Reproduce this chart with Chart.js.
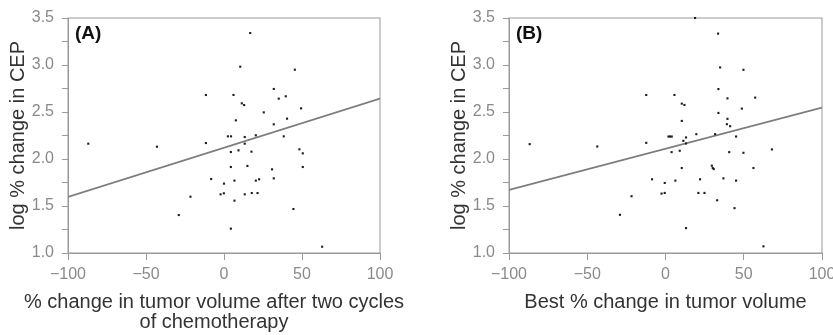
<!DOCTYPE html>
<html>
<head>
<meta charset="utf-8">
<script src="https://cdn.jsdelivr.net/npm/chart.js@4"></script>
<style>
  body { margin: 0; background: #fff; }
  #wrap { position: relative; width: 833px; height: 335px; overflow: hidden; }
  canvas { position: absolute; top: 0; }
</style>
</head>
<body>
<div id="wrap">
  <canvas id="chartA" width="416" height="335" style="left:0;width:416px;height:335px"></canvas>
  <canvas id="chartB" width="392" height="335" style="left:441px;width:392px;height:335px"></canvas>
</div>
<script>
// values
const xTicks = [-100, -50, 0, 50, 100];
const yTicks = [1.0, 1.5, 2.0, 2.5, 3.0, 3.5];

// (A) change after two cycles
const volA = [-87, -43, -29, -21.5, -11.6, -11.6, -8.2, -2.2, -0.1, 0,
  2.5, 4.5, 4.4, 4.4, 4.4, 6.1, 6.7, 6.7, 7.6, 9.3,
  10.4, 11.4, 12.9, 13.3, 13.3, 13.3, 15, 16.8, 17.6, 17.8,
  20.4, 20.4, 21.5, 22.5, 25.5, 30.8, 31.9, 31.9, 31.9, 35.1,
  38.3, 39.6, 40.4, 44.5, 45.4, 48.3, 49.4, 50.5, 50.5, 62.9];
const cepA = [2.163, 2.131, 1.404, 1.599, 2.681, 2.170, 1.787, 1.624, 1.635, 1.738,
  2.241, 2.241, 2.074, 1.915, 1.259, 2.681, 1.770, 1.557, 2.411, 2.092,
  2.982, 2.592, 2.574, 2.234, 2.163, 1.624, 1.926, 3.340, 2.078, 1.638,
  2.252, 1.770, 1.638, 1.784, 2.496, 1.890, 2.745, 2.369, 1.794, 2.642,
  2.241, 2.667, 2.429, 1.468, 2.950, 2.103, 2.539, 2.060, 1.915, 1.067];
const fitA = [1.596, 2.642]; // at x = -100 and x = 100

// (B) best change
const volB = [-86.8, -43.6, -29.1, -21.7, -12.3, -12.3, -8.6, -2.5, -0.5, -0.5,
  1.9, 2.9, 4.0, 3.9, 5.7, 6.3, 9.1, 10.4, 10.4, 10.4,
  12.1, 11.4, 13.1, 13.1, 13.1, 18.9, 19.7, 21.0, 22.1, 24.9,
  29.6, 30.2, 30.8, 31.7, 33.0, 33.6, 33.8, 33.8, 34.9, 37.0,
  39.6, 39.6, 39.2, 41.3, 40.7, 44.1, 45.1, 45.1, 48.8, 49.8,
  49.8, 56.2, 57.3, 62.6, 68.0];
const cepB = [2.158, 2.133, 1.406, 1.604, 2.681, 2.172, 1.784, 1.632, 1.639, 1.745,
  2.239, 2.239, 2.239, 2.073, 2.681, 1.770, 2.088, 2.405, 1.904, 2.589,
  2.575, 2.193, 2.229, 2.165, 1.265, 3.500, 2.264, 1.639, 1.784, 1.639,
  1.929, 1.904, 1.893, 2.264, 1.561, 3.334, 2.744, 2.490, 2.974, 1.794,
  2.645, 2.427, 2.370, 2.349, 2.073, 1.477, 2.239, 1.770, 2.536, 2.949,
  2.066, 1.904, 2.653, 1.071, 2.102];
const fitB = [1.671, 2.547];

const font = "'Liberation Sans', Arial, sans-serif";
const axisGray = '#9a9a9a';

// frame round the plot, the panel letter and the x title
// (the x title is wider than the plot, so Chart.js would squeeze it)
const framePlugin = {
  id: 'frame',
  beforeDatasetsDraw(chart, args, opts) {
    const a = chart.chartArea;
    const ctx = chart.ctx;
    ctx.save();
    ctx.strokeStyle = axisGray;
    ctx.lineWidth = 1;
    ctx.strokeRect(a.left, a.top, a.right - a.left, a.bottom - a.top);
    ctx.fillStyle = '#111';
    ctx.font = 'bold 19px ' + font;
    ctx.textBaseline = 'middle';
    ctx.fillText(opts.letter, a.left + 7, a.top + 16);

    ctx.fillStyle = '#333';
    ctx.font = '20px ' + font;
    ctx.textAlign = 'center';
    const cx = (a.left + a.right) / 2 + opts.shift;
    opts.xTitle.forEach((line, i) => ctx.fillText(line, cx, a.bottom + 49 + i * 20));
    ctx.restore();
  }
};

function makeChart(id, vol, cep, fit, letter, xTitle, shift, padRight) {
  const points = vol.map((v, i) => ({ x: v, y: cep[i] }));
  return new Chart(document.getElementById(id), {
    type: 'scatter',
    data: {
      datasets: [{
        data: points,
        pointStyle: 'rect',
        pointRadius: 1.5,
        backgroundColor: '#1e1e1e',
        borderWidth: 0,
        clip: 4
      }, {
        type: 'line',
        data: [{ x: xTicks[0], y: fit[0] }, { x: xTicks[xTicks.length - 1], y: fit[1] }],
        borderColor: '#7c7c7c',
        borderWidth: 1.8,
        pointRadius: 0
      }]
    },
    options: {
      responsive: false,
      animation: false,
      layout: { padding: { top: 18, right: padRight, left: 0, bottom: 0 } },
      plugins: {
        legend: { display: false },
        tooltip: { enabled: false },
        frame: { letter: letter, xTitle: xTitle, shift: shift }
      },
      scales: {
        x: {
          type: 'linear',
          min: xTicks[0],
          max: xTicks[xTicks.length - 1],
          afterBuildTicks: s => { s.ticks = xTicks.map(v => ({ value: v })); },
          afterFit: s => { s.height = 82; s.paddingLeft = 0; s.paddingRight = 0; },
          grid: { drawOnChartArea: false, tickLength: 7, color: axisGray },
          border: { color: axisGray },
          ticks: {
            color: '#8a8a8a',
            font: { family: font, size: 16 },
            padding: 5,
            maxRotation: 0,
            callback: v => v < 0 ? '\u2212' + Math.abs(v) : String(v)
          }
        },
        y: {
          min: yTicks[0],
          max: yTicks[yTicks.length - 1],
          ticks: {
            stepSize: 0.25,
            color: '#8a8a8a',
            font: { family: font, size: 16 },
            padding: 8,
            callback: v => yTicks.some(t => Math.abs(t - v) < 1e-6) ? v.toFixed(1) : ''
          },
          afterFit: s => { s.width = 68; },
          grid: { drawOnChartArea: false, tickLength: 6, color: axisGray },
          border: { color: axisGray },
          title: {
            display: true,
            text: 'log % change in CEP',
            color: '#333',
            font: { family: font, size: 20, lineHeight: 1.2 },
            padding: { top: 6, bottom: 0 }
          }
        }
      }
    },
    plugins: [framePlugin]
  });
}

makeChart('chartA', volA, cepA, fitA, '(A)',
  ['% change in tumor volume after two cycles', 'of chemotherapy'], -10, 36);
makeChart('chartB', volB, cepB, fitB, '(B)',
  ['Best % change in tumor volume'], 0, 11);
</script>
</body>
</html>
